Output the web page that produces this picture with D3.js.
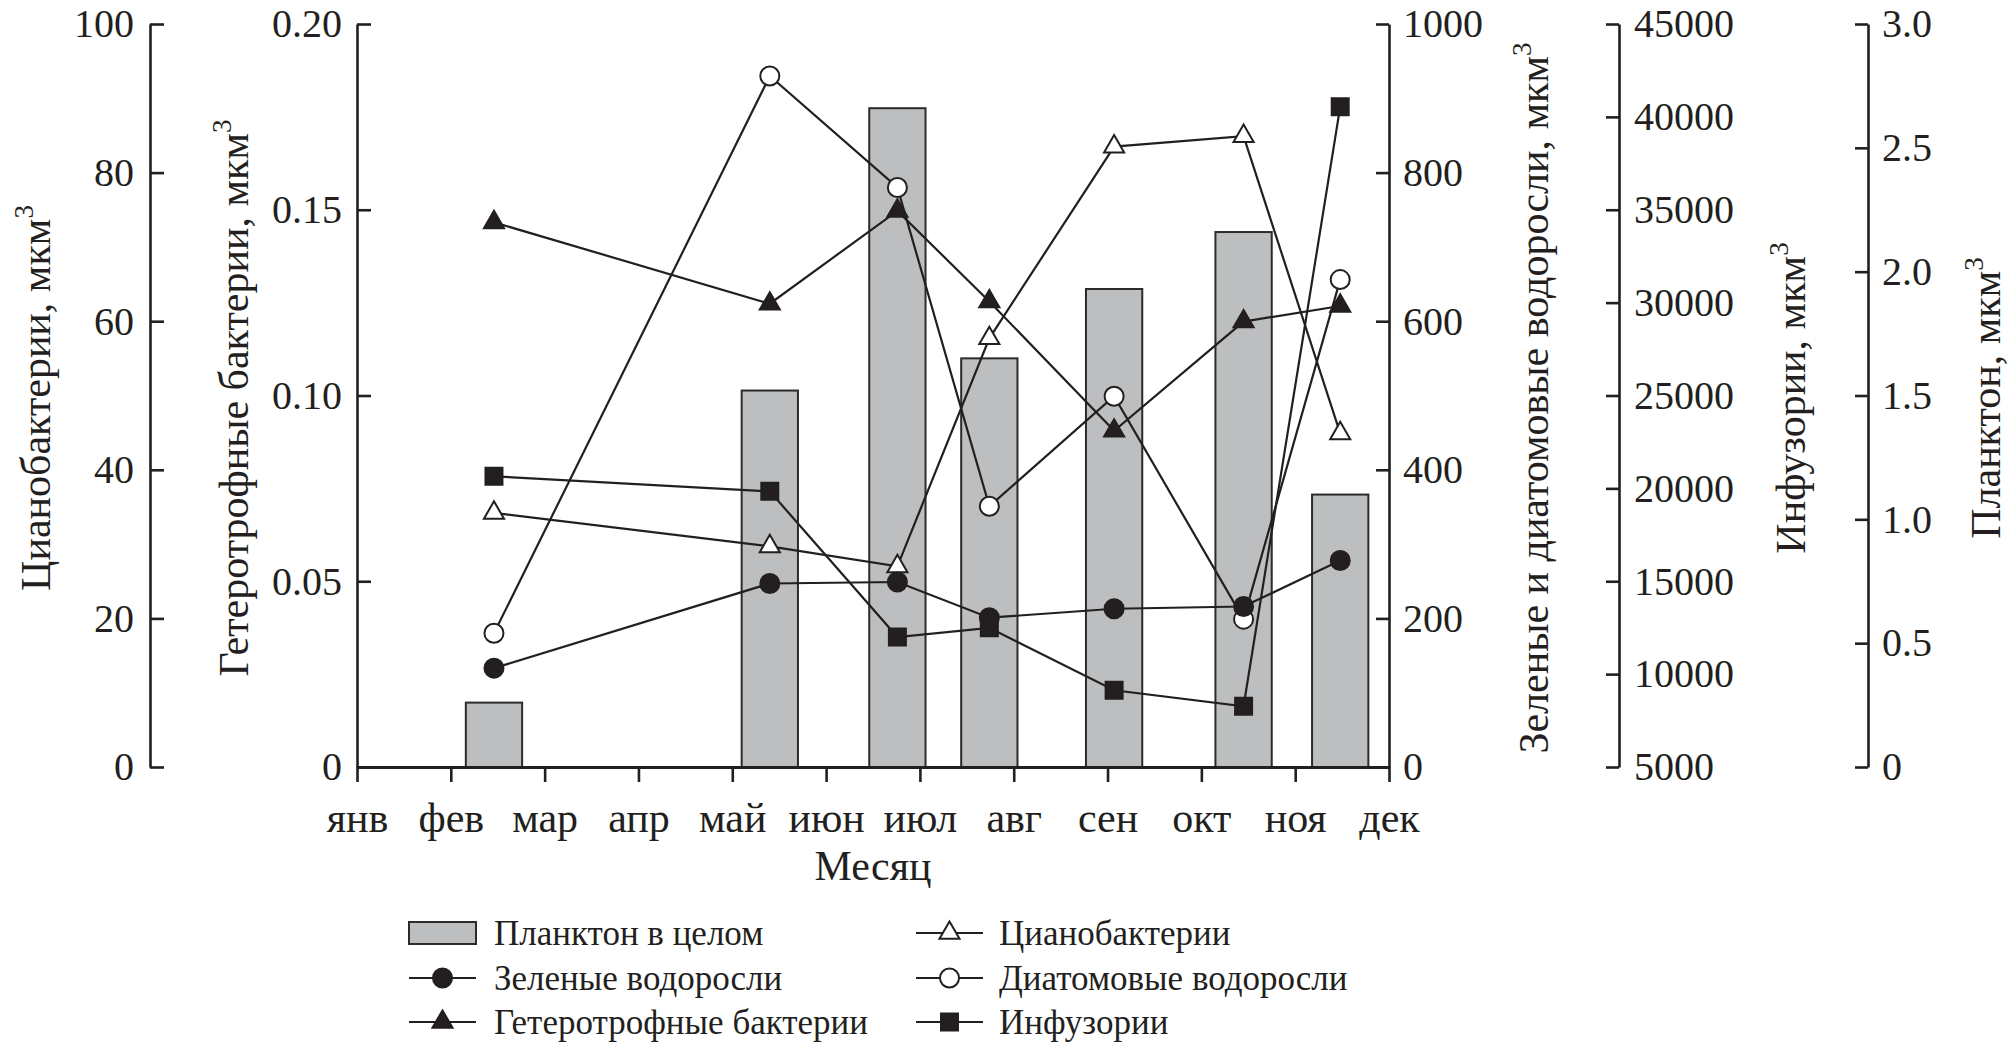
<!DOCTYPE html>
<html>
<head>
<meta charset="utf-8">
<script src="https://cdn.jsdelivr.net/npm/d3@7"></script>
<style>
  body { margin: 0; background: #fff; }
  svg text { font-family: "Liberation Serif", "Times New Roman", serif; fill: #231f20; }
</style>
</head>
<body>
<div id="chart"></div>
<script>
// month ticks on the x axis
const months = ["янв", "фев", "мар", "апр", "май", "июн", "июл", "авг", "сен", "окт", "ноя", "дек"];
// sampling moments, counted in months from the start of January
const samplePos = [1.46, 4.40, 5.76, 6.74, 8.07, 9.45, 10.48];

// series values, one per sampling
const plankton = [0.26, 1.52, 2.66, 1.65, 1.93, 2.16, 1.10];
const green    = [133, 247, 249, 201, 213, 216, 278];
const diatoms  = [180, 930, 780, 351, 499, 199, 656];
const cyano    = [34.2, 29.7, 27.0, 57.7, 83.5, 84.9, 44.9];
const hetero   = [0.1466, 0.1247, 0.1497, 0.1253, 0.0905, 0.1199, 0.1241];
const ciliates = [20650, 19840, 12000, 12490, 9130, 8270, 40550];

// tick values of the five y axes
const cyanoTicks    = [0, 20, 40, 60, 80, 100];
const heteroTicks   = [0, 0.05, 0.10, 0.15, 0.20];
const algaeTicks    = [0, 200, 400, 600, 800, 1000];
const ciliateTicks  = [5000, 10000, 15000, 20000, 25000, 30000, 35000, 40000, 45000];
const planktonTicks = [0, 0.5, 1.0, 1.5, 2.0, 2.5, 3.0];

const width = 2010, height = 1045;
const plotTop = 24, plotBottom = 767, plotLeft = 357, plotRight = 1389;
const ink = "#231f20";
const serif = "'Liberation Serif', 'Times New Roman', serif";

const svg = d3.select("#chart")
    .append("svg")
      .attr("width", width)
      .attr("height", height)
      .attr("font-family", serif);

const x = d3.scaleLinear().domain([0, 11]).range([plotLeft, plotRight]);
const yCyano = d3.scaleLinear().domain([0, 100]).range([plotBottom, plotTop]);
const yHetero = d3.scaleLinear().domain([0, 0.2]).range([plotBottom, plotTop]);
const yAlgae = d3.scaleLinear().domain([0, 1000]).range([plotBottom, plotTop]);
const yCiliate = d3.scaleLinear().domain([5000, 45000]).range([plotBottom, plotTop]);
const yPlankton = d3.scaleLinear().domain([0, 3]).range([plotBottom, plotTop]);

// ---- bars (plankton as a whole) ----
const barW = x(0.6) - x(0);
svg.append("g")
  .selectAll("rect")
  .data(plankton)
  .enter()
  .append("rect")
    .attr("x", (d, i) => x(samplePos[i]) - barW / 2)
    .attr("y", d => yPlankton(d))
    .attr("width", barW)
    .attr("height", d => plotBottom - yPlankton(d))
    .attr("fill", "#bdbec0")
    .attr("stroke", "#2b2b2b")
    .attr("stroke-width", 2);

// ---- line series ----
const series = [
  {name: "Цианобактерии", values: cyano, scale: yCyano, symbol: d3.symbolTriangle, size: 175, fill: "#fff"},
  {name: "Диатомовые водоросли", values: diatoms, scale: yAlgae, symbol: d3.symbolCircle, size: 285, fill: "#fff"},
  {name: "Зеленые водоросли", values: green, scale: yAlgae, symbol: d3.symbolCircle, size: 285, fill: ink},
  {name: "Гетеротрофные бактерии", values: hetero, scale: yHetero, symbol: d3.symbolTriangle, size: 175, fill: ink},
  {name: "Инфузории", values: ciliates, scale: yCiliate, symbol: d3.symbolSquare, size: 289, fill: ink}
];

series.forEach(s => {
  const line = d3.line()
      .x((d, i) => x(samplePos[i]))
      .y(d => s.scale(d));
  svg.append("path")
      .datum(s.values)
      .attr("d", line)
      .attr("fill", "none")
      .attr("stroke", ink)
      .attr("stroke-width", 2.2);
});

series.forEach(s => {
  svg.append("g")
    .selectAll("path")
    .data(s.values)
    .enter()
    .append("path")
      .attr("d", d3.symbol().type(s.symbol).size(s.size))
      .attr("transform", (d, i) => "translate(" + x(samplePos[i]) + "," + s.scale(d) + ")")
      .attr("fill", s.fill)
      .attr("stroke", ink)
      .attr("stroke-width", 2);
});

// ---- axes ----
function styleAxis(g, fontSize) {
  g.attr("font-family", serif).attr("font-size", fontSize);
  g.select(".domain").attr("stroke", ink).attr("stroke-width", 2.6);
  g.selectAll(".tick line").attr("stroke", ink).attr("stroke-width", 2.6);
  g.selectAll(".tick text").attr("fill", ink);
}

const intFmt = d3.format("d");
const numFmt = d => d === 0 ? "0" : d3.format(".2f")(d);
const plFmt = d => d === 0 ? "0" : d3.format(".1f")(d);

const axCyano = svg.append("g")
    .attr("transform", "translate(150,0)")
    .call(d3.axisLeft(yCyano).tickValues(cyanoTicks).tickFormat(intFmt).tickSize(-14).tickSizeOuter(0).tickPadding(16));
styleAxis(axCyano, 40);

const axHetero = svg.append("g")
    .attr("transform", "translate(" + plotLeft + ",0)")
    .call(d3.axisLeft(yHetero).tickValues(heteroTicks).tickFormat(numFmt).tickSize(-14).tickSizeOuter(0).tickPadding(15));
styleAxis(axHetero, 40);

const axAlgae = svg.append("g")
    .attr("transform", "translate(" + plotRight + ",0)")
    .call(d3.axisRight(yAlgae).tickValues(algaeTicks).tickFormat(intFmt).tickSize(-13).tickSizeOuter(0).tickPadding(14));
styleAxis(axAlgae, 40);

const axCiliate = svg.append("g")
    .attr("transform", "translate(1619,0)")
    .call(d3.axisRight(yCiliate).tickValues(ciliateTicks).tickFormat(intFmt).tickSize(-13).tickSizeOuter(0).tickPadding(15));
styleAxis(axCiliate, 40);

const axPlankton = svg.append("g")
    .attr("transform", "translate(1868,0)")
    .call(d3.axisRight(yPlankton).tickValues(planktonTicks).tickFormat(plFmt).tickSize(-13).tickSizeOuter(0).tickPadding(14));
styleAxis(axPlankton, 40);

const axX = svg.append("g")
    .attr("transform", "translate(0," + plotBottom + ")")
    .call(d3.axisBottom(x).tickValues(d3.range(12)).tickFormat(i => months[i]).tickSize(15).tickSizeOuter(0).tickPadding(20));
styleAxis(axX, 42);
axX.select(".domain").attr("stroke-width", 3);

svg.append("text")
    .attr("x", (plotLeft + plotRight) / 2)
    .attr("y", 880)
    .attr("text-anchor", "middle")
    .attr("font-size", 42)
    .text("Месяц");

// ---- rotated axis titles with superscript 3 ----
const titles = [
  {text: "Цианобактерии, мкм", x: 50},
  {text: "Гетеротрофные бактерии, мкм", x: 248},
  {text: "Зеленые и диатомовые водоросли, мкм", x: 1548},
  {text: "Инфузории, мкм", x: 1805},
  {text: "Планктон, мкм", x: 2000}
];

titles.forEach(t => {
  const txt = svg.append("text")
      .attr("transform", "translate(" + t.x + ",398) rotate(-90)")
      .attr("text-anchor", "middle")
      .attr("font-size", 42);
  txt.append("tspan").text(t.text);
  txt.append("tspan").attr("dy", -17).attr("font-size", 27).text("3");
});

// ---- legend ----
const legendRows = [933, 978, 1022];
const legendCols = [{sym: 409, text: 494}, {sym: 916, text: 999}];
const legendItems = [
  {label: "Планктон в целом", bar: true, col: 0, row: 0},
  {label: "Зеленые водоросли", s: series[2], col: 0, row: 1},
  {label: "Гетеротрофные бактерии", s: series[3], col: 0, row: 2},
  {label: "Цианобактерии", s: series[0], col: 1, row: 0},
  {label: "Диатомовые водоросли", s: series[1], col: 1, row: 1},
  {label: "Инфузории", s: series[4], col: 1, row: 2}
];

const legend = svg.append("g");
legendItems.forEach(it => {
  const sx = legendCols[it.col].sym, ty = legendRows[it.row];
  if (it.bar) {
    legend.append("rect")
      .attr("x", sx).attr("y", ty - 11)
      .attr("width", 67).attr("height", 22)
      .attr("fill", "#bdbec0").attr("stroke", "#2b2b2b").attr("stroke-width", 2);
  } else {
    legend.append("line")
      .attr("x1", sx).attr("x2", sx + 67)
      .attr("y1", ty).attr("y2", ty)
      .attr("stroke", ink).attr("stroke-width", 2.2);
    legend.append("path")
      .attr("d", d3.symbol().type(it.s.symbol).size(it.s.size))
      .attr("transform", "translate(" + (sx + 33.5) + "," + ty + ")")
      .attr("fill", it.s.fill).attr("stroke", ink).attr("stroke-width", 2);
  }
  legend.append("text")
    .attr("x", legendCols[it.col].text)
    .attr("y", ty + 12)
    .attr("font-size", 35)
    .text(it.label);
});
</script>
</body>
</html>
